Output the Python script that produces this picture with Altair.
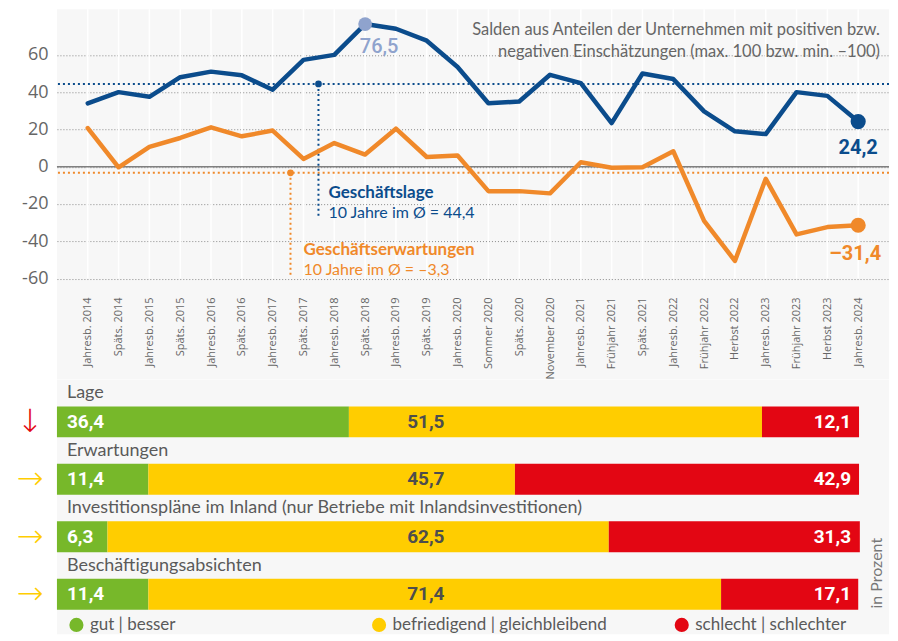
import altair as alt
import pandas as pd

# ---------------- data ----------------
periods = ["Jahresb. 2014", "Späts. 2014", "Jahresb. 2015", "Späts. 2015", "Jahresb. 2016",
           "Späts. 2016", "Jahresb. 2017", "Späts. 2017", "Jahresb. 2018", "Späts. 2018",
           "Jahresb. 2019", "Späts. 2019", "Jahresb. 2020", "Sommer 2020", "Späts. 2020",
           "November 2020", "Jahresb. 2021", "Frühjahr 2021", "Späts. 2021", "Jahresb. 2022",
           "Frühjahr 2022", "Herbst 2022", "Jahresb. 2023", "Frühjahr 2023", "Herbst 2023",
           "Jahresb. 2024"]
lage = [34.0, 40.0, 37.5, 48.0, 51.0, 49.0, 41.3, 57.3, 60.0, 76.5, 74.0, 67.6, 53.5,
        34.0, 35.0, 49.3, 44.8, 23.4, 50.0, 47.0, 29.7, 19.0, 17.5, 40.0, 38.0, 24.2]
erwartungen = [20.7, -0.3, 10.6, 15.4, 21.1, 16.3, 19.4, 4.2, 12.7, 6.5, 20.4, 5.2, 6.0,
               -13.1, -13.1, -14.3, 2.4, -0.6, -0.3, 8.3, -29.1, -50.5, -6.5, -36.3, -32.4, -31.4]
series_names = ["Geschäftslage", "Geschäftserwartungen"]
averages = [44.4, -3.3]
avg_line_ends = [-27.0, -58.5]
note_lines = ["Salden aus Anteilen der Unternehmen mit positiven bzw.",
              "negativen Einschätzungen (max. 100 bzw. min. –100)"]

bar_cats = ["Lage", "Erwartungen",
            "Investitionspläne im Inland (nur Betriebe mit Inlandsinvestitionen)",
            "Beschäftigungsabsichten"]
gut = [36.4, 11.4, 6.3, 11.4]
mittel = [51.5, 45.7, 62.5, 71.4]
schlecht = [12.1, 42.9, 31.3, 17.1]
trend = ["down", "flat", "flat", "flat"]
kinds = ["gut | besser", "befriedigend | gleichbleibend", "schlecht | schlechter"]

# ---------------- style ----------------
BLUE = "#0b4c8c"
ORANGE = "#f0892a"
PEAK = "#8fa3cd"
GREEN = "#77b82a"
YELLOW = "#ffcd00"
RED = "#e30613"
BG = "#f7f7f7"
TXT = "#5a5a5a"
W = 833
H1 = 370.5
H2 = 254.5


def fmt(v):
    s = f"{abs(v):.1f}".replace(".", ",")
    return ("–" + s) if v < 0 else s


# ---------------- top chart ----------------
df = pd.DataFrame({
    "period": periods * 2,
    "series": [series_names[0]] * len(periods) + [series_names[1]] * len(periods),
    "value": lage + erwartungen,
})
df["label"] = df["value"].map(fmt)
df_avg = pd.DataFrame({"series": series_names, "value": averages, "value2": avg_line_ends,
                       "period": ["Späts. 2017", "Späts. 2017"]})
df_avg["sub"] = ["10 Jahre im Ø = " + fmt(a) for a in averages]
df_per = pd.DataFrame({"period": periods})

xscale = alt.Scale(type="point", padding=1.09, domain=periods)
AX = alt.Axis(title=None, labelAngle=270, labelFont="Open Sans", labelFontSize=11,
              labelColor="#666", ticks=False, domain=False, grid=False, offset=-84.5,
              labelPadding=2)
X = alt.X("period:N", scale=xscale, sort=periods, axis=AX)
yscale = alt.Scale(domain=[-114.1, 84.4], nice=False, zero=False)
AY = alt.Axis(title=None, values=[-60, -40, -20, 0, 20, 40, 60], labelExpr="'' + datum.value",
              labelFont="Open Sans", labelFontSize=18, labelColor="#666", ticks=False,
              domain=False, grid=True, gridDash=[1, 2], gridColor="#8a8a8a", gridWidth=1,
              labelPadding=9)
Y = alt.Y("value:Q", scale=yscale, axis=AY)
C = alt.Color("series:N", scale=alt.Scale(domain=series_names, range=[BLUE, ORANGE]), legend=None)

vgrid = alt.Chart(df_per).mark_rule(color="white", strokeWidth=1.5).encode(
    x=X, y=alt.value(0), y2=alt.value(269.5))
zero = alt.Chart(pd.DataFrame({"value": [0]})).mark_rule(color="#808080", strokeWidth=1.5).encode(y=Y)
avg_rules = alt.Chart(df_avg).mark_rule(strokeDash=[2, 3], strokeWidth=2).encode(y=Y, color=C)

vlines = []
for name, off in zip(series_names, [15, -13]):
    d = df_avg[df_avg["series"] == name]
    vlines.append(alt.Chart(d).mark_rule(strokeDash=[2, 3], strokeWidth=2, xOffset=off).encode(
        x=X, y=Y, y2="value2:Q", color=C))
    vlines.append(alt.Chart(d).mark_circle(size=45, opacity=1, xOffset=off).encode(
        x=X, y=Y, color=C))

lines = alt.Chart(df).mark_line(strokeWidth=4.5, strokeJoin="round", strokeCap="round").encode(
    x=X, y=Y, color=C, detail="series:N")

last = df[df["period"] == periods[-1]]
end_pts = alt.Chart(last).mark_circle(size=230, opacity=1).encode(x=X, y=Y, color=C)
end_lab_blue = alt.Chart(last[last["series"] == series_names[0]]).mark_text(
    font="Roboto", fontWeight="bold", fontSize=20, dy=26, color=BLUE).encode(x=X, y=Y, text="label:N")
end_lab_or = alt.Chart(last[last["series"] == series_names[1]]).mark_text(
    font="Roboto", fontWeight="bold", fontSize=20, dy=29, dx=-3, color=ORANGE).encode(x=X, y=Y, text="label:N")

peak_row = df[df["series"] == series_names[0]].nlargest(1, "value")
peak_pt = alt.Chart(peak_row).mark_circle(size=190, opacity=1, color=PEAK).encode(x=X, y=Y)
peak_lab = alt.Chart(peak_row).mark_text(font="Roboto", fontWeight=500, fontSize=20, dx=14, dy=23,
                                         color=PEAK).encode(x=X, y=Y, text="label:N")

ann = []
for name, col, dx, y_title, y_sub in [(series_names[0], BLUE, 25, 184, 204),
                                      (series_names[1], ORANGE, 0, 241, 261)]:
    d = df_avg[df_avg["series"] == name]
    ann.append(alt.Chart(d).mark_text(align="left", font="Lato", fontWeight="bold", fontSize=17,
                                      dx=dx, color=col).encode(x=X, y=alt.value(y_title), text="series:N"))
    ann.append(alt.Chart(d).mark_text(align="left", font="Lato", fontSize=16, dx=dx,
                                      color=col).encode(x=X, y=alt.value(y_sub), text="sub:N"))

note = alt.Chart(pd.DataFrame({"t": [0]})).mark_text(
    text=note_lines, align="right", baseline="middle", lineHeight=22, font="Lato", fontSize=16.5,
    color="#666").encode(x=alt.value(824), y=alt.value(21))

top = alt.layer(vgrid, avg_rules, zero, *vlines, lines, end_pts, peak_pt, end_lab_blue, end_lab_or,
                peak_lab, *ann, note).properties(width=W, height=H1)

# ---------------- bottom chart ----------------
rows = []
for i, c in enumerate(bar_cats):
    for k, (kind, vals) in enumerate(zip(kinds, [gut, mittel, schlecht])):
        rows.append({"cat": c, "kind": kind, "val": vals[i], "k": k, "label": fmt(vals[i])})
db = pd.DataFrame(rows)

arrow_map = {"down": "↓", "up": "↑", "flat": "→"}
label_expr = " : ".join(f"datum.value == '{c}' ? '{arrow_map[t]}'" for c, t in zip(bar_cats, trend)) + " : ''"
down_test = " || ".join(f"datum.value == '{c}'" for c, t in zip(bar_cats, trend) if t == "down") or "false"

AYb = alt.Axis(title=None, domain=False, ticks=False, labelExpr=label_expr,
               labelFont="DejaVu Sans", labelFontSize=32, labelFontWeight=200, labelPadding=14,
               labelColor={"condition": {"test": down_test, "value": RED}, "value": YELLOW})
Yb = alt.Y("cat:N", sort=bar_cats,
           scale=alt.Scale(domain=bar_cats, range=[26.5, 230], paddingInner=0.461, paddingOuter=0),
           axis=AYb)
Xb = alt.X("val:Q", stack="zero", scale=alt.Scale(domain=[0, 100], range=[0, 803], nice=False), axis=None)

bars = alt.Chart(db).mark_bar().encode(
    x=Xb, y=Yb, order=alt.Order("k:Q"),
    fill=alt.Fill("kind:N", scale=alt.Scale(domain=kinds, range=[GREEN, YELLOW, RED]),
                  legend=alt.Legend(title=None, orient="none", legendX=11, legendY=H1 + 237,
                                    direction="horizontal", columns=3, columnPadding=66,
                                    gridAlign="all", symbolType="circle", symbolSize=200,
                                    symbolStrokeWidth=0, labelFont="Lato", labelFontSize=17,
                                    labelColor=TXT, labelOffset=5, labelLimit=400, padding=0)))

val_style = dict(font="Roboto", fontWeight="bold", fontSize=19)
lab_gut = alt.Chart(db[db["k"] == 0]).mark_text(align="left", color="white", **val_style).encode(
    x=alt.value(10), y=Yb, text="label:N")
lab_mit = alt.Chart(db[db["k"] == 1]).mark_text(align="right", color="#4d4d4d", **val_style).encode(
    x=alt.value(388), y=Yb, text="label:N")
lab_sch = alt.Chart(db[db["k"] == 2]).mark_text(align="right", color="white", **val_style).encode(
    x=alt.value(795), y=Yb, text="label:N")
cat_titles = alt.Chart(pd.DataFrame({"cat": bar_cats})).mark_text(
    align="left", font="Lato", fontSize=18, color=TXT, dy=-28.5).encode(
    x=alt.value(10), y=Yb, text="cat:N")
unit = alt.Chart(pd.DataFrame({"t": [0]})).mark_text(
    text="in Prozent", angle=270, font="Lato", fontSize=16, color="#777").encode(
    x=alt.value(821), y=alt.value(193.5))

bottom = alt.layer(bars, lab_gut, lab_mit, lab_sch, cat_titles, unit).properties(width=W, height=H2)

chart = alt.vconcat(top, bottom, spacing=0).resolve_scale(
    x="independent", y="independent", color="independent"
).properties(
    padding={"left": 8, "top": 0, "right": 0, "bottom": 0}
).configure(background="white").configure_view(stroke=None, fill=BG)

chart.save("out.html", embed_options={"renderer": "svg", "actions": False})
